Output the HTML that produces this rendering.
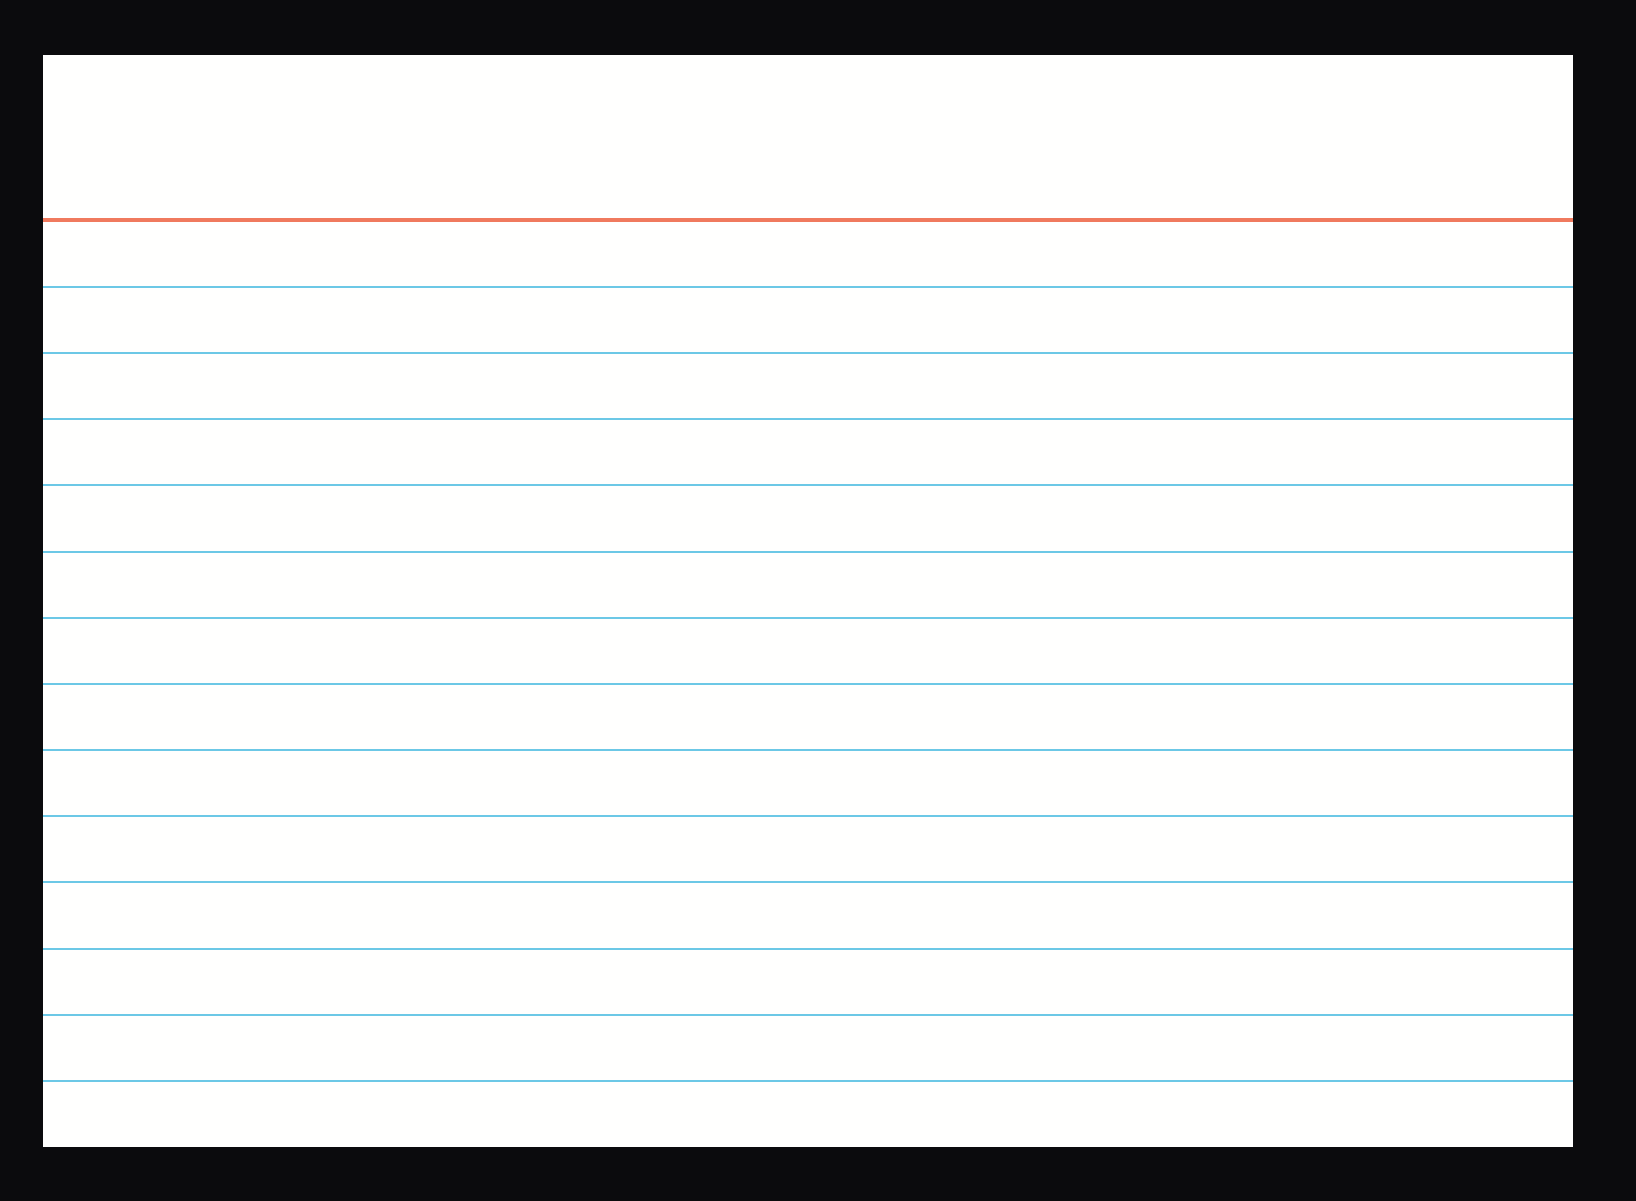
<!DOCTYPE html>
<html><head><meta charset="utf-8"><style>
html,body{margin:0;padding:0;background:#0b0b0d;width:1636px;height:1201px;overflow:hidden}
.card{position:absolute;left:43px;top:55px;width:1530px;height:1092px;background:#fffffe}
.l{position:absolute;left:0;width:1530px;height:2px;background:#6cc8e6}
.r{position:absolute;left:0;top:163px;width:1530px;height:4px;background:#f07a5e}
</style></head><body>
<div class="card">
<div class="r"></div>
<div class="l" style="top:231px"></div>
<div class="l" style="top:297px"></div>
<div class="l" style="top:363px"></div>
<div class="l" style="top:429px"></div>
<div class="l" style="top:496px"></div>
<div class="l" style="top:562px"></div>
<div class="l" style="top:628px"></div>
<div class="l" style="top:694px"></div>
<div class="l" style="top:760px"></div>
<div class="l" style="top:826px"></div>
<div class="l" style="top:893px"></div>
<div class="l" style="top:959px"></div>
<div class="l" style="top:1025px"></div>
</div>
</body></html>
